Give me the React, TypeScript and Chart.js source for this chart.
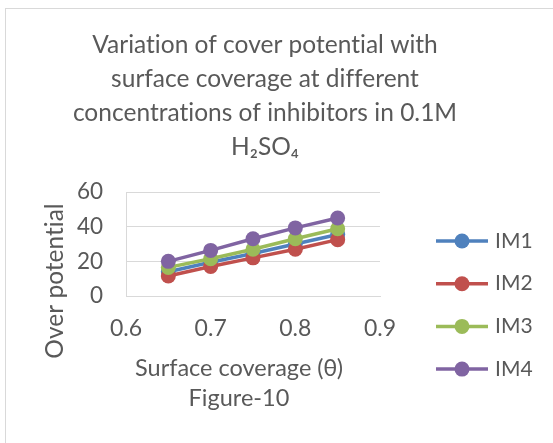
import React, { useEffect, useRef } from "react";
import { Chart, registerables } from "chart.js";

Chart.register(...registerables);

// ---- data ----
const coverage = [0.65, 0.7, 0.75, 0.8, 0.85];
const im1 = [14, 19.5, 24.5, 30, 35.5];
const im2 = [11.5, 17, 22, 27, 32.5];
const im3 = [16.5, 21.5, 27, 33, 38.8];
const im4 = [20, 26.3, 33, 39.3, 45];
const seriesNames = ["IM1", "IM2", "IM3", "IM4"];
const seriesValues = [im1, im2, im3, im4];
const seriesColors = ["#4f81bd", "#c0504d", "#9bbb59", "#8064a2"];
const xTickRange = [0.6, 0.9, 0.1];
const yTickRange = [0, 60, 20];
const titleLines = [
  "Variation of cover potential with",
  "surface coverage at different",
  "concentrations of inhibitors in 0.1M",
  "H₂SO₄",
];
const xTitleLines = ["Surface coverage (θ)", "Figure-10"];
const yTitleText = "Over potential";

const FONT = "Lato";
const TEXT = "#595959";
const GRID = "#d9d9d9";

const noLigatures = {
  id: "noLigatures",
  beforeDraw(chart: any) {
    const ctx = chart.ctx;
    try {
      ctx.letterSpacing = "0.01px";
    } catch (e) {}
  },
};

const extras = {
  id: "excelExtras",
  afterDraw(chart: any) {
    const { ctx, chartArea } = chart;
    ctx.save();
    ctx.fillStyle = TEXT;
    ctx.textBaseline = "middle";
    // y axis title
    ctx.save();
    ctx.font = `24.5px ${FONT}`;
    ctx.translate(chartArea.left - 71, chartArea.bottom - 15);
    ctx.rotate(-Math.PI / 2);
    ctx.textAlign = "center";
    ctx.fillText(yTitleText, 0, 0);
    ctx.restore();
    // x axis title
    ctx.font = `23.5px ${FONT}`;
    ctx.textAlign = "center";
    xTitleLines.forEach((t, i) => {
      ctx.fillText(t, chartArea.left + 113, chartArea.bottom + 72 + i * 30);
    });
    // legend
    ctx.font = `21px ${FONT}`;
    chart.data.datasets.forEach((ds: any, i: number) => {
      const y = chartArea.top + 49 + i * 42.7;
      const x0 = chartArea.right + 56;
      ctx.strokeStyle = ds.borderColor;
      ctx.lineWidth = 3.5;
      ctx.beginPath();
      ctx.moveTo(x0, y);
      ctx.lineTo(x0 + 52, y);
      ctx.stroke();
      ctx.fillStyle = ds.backgroundColor;
      ctx.beginPath();
      ctx.arc(x0 + 26, y, 7.5, 0, Math.PI * 2);
      ctx.fill();
      ctx.fillStyle = TEXT;
      ctx.textAlign = "left";
      ctx.fillText(ds.label, x0 + 59, y);
    });
    ctx.restore();
  },
};

export default function App() {
  const ref = useRef<HTMLCanvasElement>(null);
  useEffect(() => {
    if (!ref.current) return;
    const datasets = seriesNames.map((name, i) => ({
      label: name,
      data: coverage.map((x, j) => ({ x, y: seriesValues[i][j] })),
      borderColor: seriesColors[i],
      backgroundColor: seriesColors[i],
      pointBackgroundColor: seriesColors[i],
      pointBorderColor: seriesColors[i],
      borderWidth: 3.5,
      pointRadius: 7.5,
      pointBorderWidth: 0,
      tension: 0,
      order: seriesNames.length - i,
    }));
    const chart = new Chart(ref.current, {
      type: "line",
      data: { datasets },
      options: {
        responsive: false,
        animation: false,
        devicePixelRatio: 1,
        layout: { padding: { left: 0, right: 23, top: 0, bottom: 0 } },
        plugins: {
          legend: { display: false },
          tooltip: { enabled: false },
          title: {
            display: true,
            text: titleLines,
            color: TEXT,
            font: { family: FONT, size: 24.5, weight: "normal", lineHeight: "34px" },
            padding: { top: 28, bottom: 28 },
          },
        },
        scales: {
          x: {
            type: "linear",
            min: xTickRange[0],
            max: xTickRange[1],
            ticks: {
              stepSize: xTickRange[2],
              color: TEXT,
              font: { family: FONT, size: 23 },
              padding: 19,
              callback: (v: any) => Number(v).toFixed(1),
            },
            grid: { display: false, drawTicks: false },
            border: { display: true, color: GRID, width: 1 },
            afterFit: (s: any) => {
              s.height = 147;
              s.paddingRight = 173;
            },
          },
          y: {
            min: yTickRange[0],
            max: yTickRange[1],
            ticks: {
              stepSize: yTickRange[2],
              color: TEXT,
              font: { family: FONT, size: 22.5 },
              padding: 23,
            },
            grid: { color: GRID, lineWidth: 1, drawTicks: false },
            border: { display: true, color: GRID, width: 1 },
            afterFit: (s: any) => {
              s.width = 126;
            },
          },
        },
      },
      plugins: [noLigatures, extras],
    } as any);
    return () => chart.destroy();
  }, []);
  return (
    <div
      style={{
        position: "fixed",
        left: 0,
        top: 0,
        width: 553,
        height: 443,
        background: "#fff",
        overflow: "hidden",
      }}
    >
      <div
        style={{
          position: "absolute",
          left: 5,
          top: 8,
          width: 700,
          height: 700,
          border: `1px solid ${GRID}`,
        }}
      />
      <canvas
        ref={ref}
        width={553}
        height={443}
        style={{ position: "absolute", left: 0, top: 0, width: 553, height: 443 }}
      />
    </div>
  );
}
